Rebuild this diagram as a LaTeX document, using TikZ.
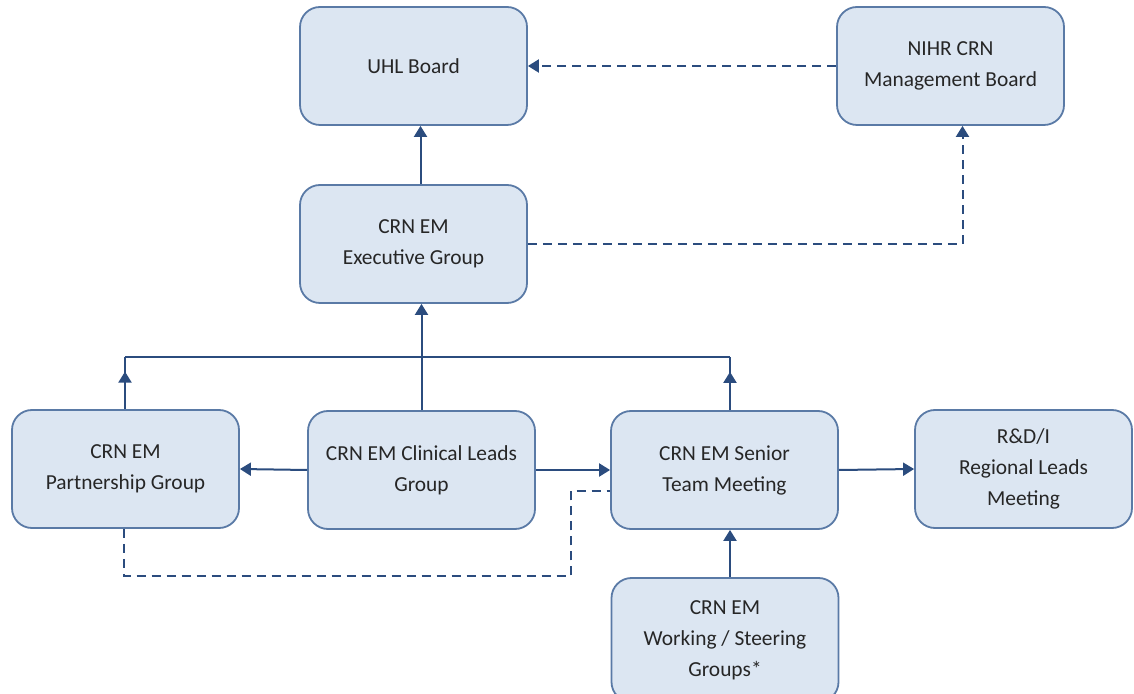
\documentclass[tikz,border=0pt]{standalone}
\usepackage{fontspec}
\setmainfont{Carlito}
\usetikzlibrary{arrows.meta,decorations.markings}
\definecolor{boxfill}{HTML}{DCE6F2}
\definecolor{boxline}{HTML}{5A7AA6}
\definecolor{linkblue}{HTML}{2B4C7E}
\definecolor{textgrey}{HTML}{262626}
\tikzset{
	group/.style={
			draw=boxline, fill=boxfill, line width=0.9pt, rounded corners=10pt,
			minimum width=113.5pt, minimum height=59pt, align=center,
			text=textgrey, font=\fontsize{10.7}{15.5}\selectfont
		},
	link/.style={draw=linkblue, line width=1pt, -{Triangle[length=5.5pt,width=6.5pt]}},
	bus/.style={draw=linkblue, line width=0.7pt},
	dashlink/.style={draw=linkblue, line width=1pt, dash pattern=on 4.5pt off 3pt},
	midtip/.style={postaction={decorate}, decoration={markings,
			mark=at position #1 with {\arrow{Triangle[length=5.5pt,width=6.5pt]}}}}
}

\begin{document}
\begin{tikzpicture}[x=0.5pt, y=-0.5pt]
		\useasboundingbox (0,0) rectangle (1134,694);

		% boxes
		\node [group] (uhl)		at (413.5,66)	{UHL Board};
		\node [group] (nihr)	at (950.5,66)	{NIHR CRN\\Management Board};
		\node [group] (exec)	at (413.5,244)	{CRN EM\\Executive Group};
		\node [group] (partner)	at (125.5,469)	{CRN EM\\Partnership Group};
		\node [group] (clinical)	at (421.5,470)	{CRN EM Clinical Leads\\Group};
		\node [group] (senior)	at (724.5,470)	{CRN EM Senior\\Team Meeting};
		\node [group, minimum width=108.5pt] (regional)	at (1023.5,469)	{R\&D/I\\Regional Leads\\Meeting};
		\node [group, minimum height=62pt] (working)	at (725,640)	{CRN EM\\Working / Steering\\Groups*};

		% bus above the middle row
		\coordinate (busL) at (125,357);
		\coordinate (busR) at (730,357);

		\draw [link]	([xshift=3.5pt]exec.north) -- ([xshift=3.5pt]uhl.south);
		\draw [link, dashlink]	(nihr.west) -- (uhl.east);
		\draw [link, dashlink]	(exec.east) -| ([xshift=6pt]nihr.south);

		\draw [link]	(clinical.north) -- (clinical.north |- exec.south);
		\draw [bus]	(busL) -- (busR);
		\draw [bus, line width=1pt, midtip=0.72]	(partner.north -| busL) -- (busL);
		\draw [bus, line width=1pt, midtip=0.72]	(senior.north -| busR) -- (busR);

		\draw [link]	(clinical.west) -- (partner.east);
		\draw [link]	(clinical.east) -- (senior.west);
		\draw [link]	(senior.east) -- (regional.west);
		\draw [link]	(working.north -| busR) -- (senior.south -| busR);

		\draw [dashlink]	([xshift=-1pt]partner.south) -- ++(0,47) -| (571,491) -- (senior.west |- 0,491);
	\end{tikzpicture}
\end{document}
